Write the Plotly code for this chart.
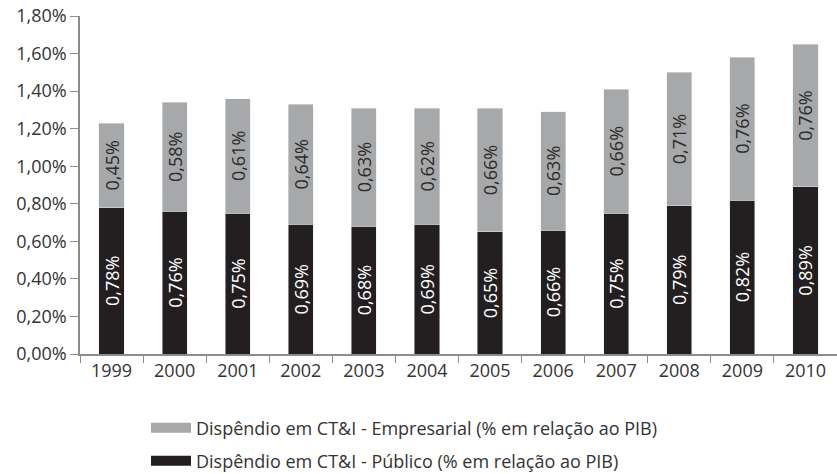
import plotly.graph_objects as go

years = ["1999", "2000", "2001", "2002", "2003", "2004",
         "2005", "2006", "2007", "2008", "2009", "2010"]
publico = [0.78, 0.76, 0.75, 0.69, 0.68, 0.69, 0.65, 0.66, 0.75, 0.79, 0.82, 0.89]
empresarial = [0.45, 0.58, 0.61, 0.64, 0.63, 0.62, 0.66, 0.63, 0.66, 0.71, 0.76, 0.76]
y_ticks = [0, 0.2, 0.4, 0.6, 0.8, 1.0, 1.2, 1.4, 1.6, 1.8]
y_labels = [f"{v:.2f}%".replace(".", ",") for v in y_ticks]

name_emp = "Dispêndio em CT&I - Empresarial (% em relação ao PIB)"
name_pub = "Dispêndio em CT&I - Público (% em relação ao PIB)"

GRAY = "#A7A8AA"
BLACK = "#231F20"
FONT = "Open Sans"
TXT = "#333333"

W, H = 837, 474

fig = go.Figure()

fig.add_trace(go.Bar(
    x=years, y=publico, marker_color=BLACK, showlegend=False,
    texttemplate="%{y:.2f}%", textposition="inside", textangle=-90,
    insidetextanchor="middle", constraintext="none",
    textfont=dict(family=FONT, size=18, color="white"),
))
fig.add_trace(go.Bar(
    x=years, y=empresarial, marker_color=GRAY, showlegend=False,
    texttemplate="%{y:.2f}%", textposition="inside", textangle=-90,
    insidetextanchor="middle", constraintext="none",
    textfont=dict(family=FONT, size=18, color="#2b2b2b"),
))

# legend-only entries (wide rectangular swatches)
fig.add_trace(go.Scatter(x=[None], y=[None], mode="lines", name=name_emp,
                         line=dict(color=GRAY, width=11), legend="legend"))
fig.add_trace(go.Scatter(x=[None], y=[None], mode="lines", name=name_pub,
                         line=dict(color=BLACK, width=11), legend="legend2"))

legend_common = dict(
    xref="container", yref="container", xanchor="left", yanchor="middle",
    font=dict(family=FONT, size=18, color=TXT), bgcolor="rgba(0,0,0,0)",
    itemwidth=40,
)

fig.update_layout(
    width=W, height=H,
    margin=dict(l=80, r=0, t=16, b=120, autoexpand=False),
    plot_bgcolor="white", paper_bgcolor="white",
    barmode="stack", bargap=0.6,
    separators=",.",
    font=dict(family=FONT, size=18, color=TXT),
    legend=dict(x=(151 - 5) / W, y=1 - 428 / H, **legend_common),
    legend2=dict(x=(151 - 5) / W, y=1 - 461 / H, **legend_common),
    xaxis=dict(
        showline=True, linecolor="#8c8c8c", linewidth=1.5,
        ticks="outside", tickson="boundaries", ticklen=7, tickcolor="#8c8c8c",
        tickfont=dict(family=FONT, size=18, color=TXT), tickangle=0,
        showgrid=False,
    ),
    yaxis=dict(
        range=[0, 1.8], tickvals=y_ticks, ticktext=y_labels,
        ticklabeloverflow="allow",
        showline=True, linecolor="#8c8c8c", linewidth=1.5,
        ticks="outside", ticklen=8, tickcolor="#8c8c8c",
        tickfont=dict(family=FONT, size=18, color=TXT),
        showgrid=False, zeroline=False,
    ),
)

# drop the browser's default 8px body margin so the figure fills the window
fig.write_html(
    "out.html",
    config={"displayModeBar": False},
    post_script="document.body.style.margin='0';document.body.style.overflow='hidden';",
)
